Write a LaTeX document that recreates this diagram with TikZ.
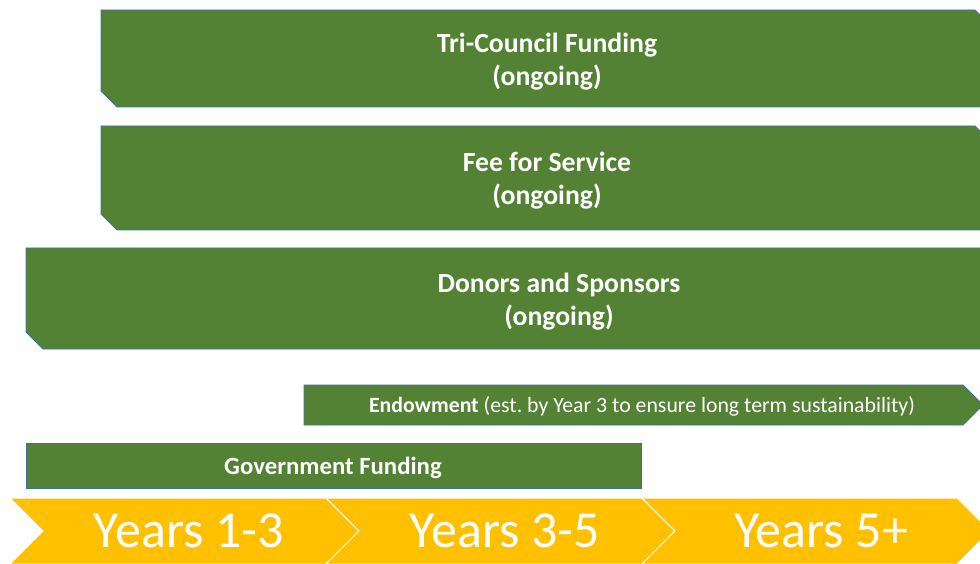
\documentclass[tikz,border=0pt]{standalone}
\usepackage{fontspec}
\setmainfont{Carlito}
\definecolor{barg}{HTML}{548235}
\definecolor{edge}{HTML}{41719C}
\definecolor{gold}{HTML}{FFC000}
\begin{document}
\begin{tikzpicture}[x=1pt,y=-1pt,
 bar/.style={fill=barg,draw=edge,line width=0.8pt},
 chev/.style={fill=gold,draw=white,line width=1pt},
 lbl/.style={text=white,font=\bfseries\fontsize{27.7}{33}\selectfont,align=center,inner sep=0pt},
 small/.style={text=white,font=\fontsize{21.8}{24}\selectfont,inner sep=0pt},
 yr/.style={text=white,font=\fontsize{52}{56}\selectfont,inner sep=0pt}]
\useasboundingbox (0,0) rectangle (980,564);
\clip (0,0) rectangle (980,564);
% funding bars
\draw[bar] (101,10) -- (975,10) -- (991,26) -- (991,107) -- (117,107) -- (101,91) -- cycle;
\draw[bar] (101,126) -- (975,126) -- (991,142) -- (991,230) -- (117,230) -- (101,214) -- cycle;
\draw[bar] (26,248) -- (1076,248) -- (1092,264) -- (1092,349) -- (43,349) -- (26,332) -- cycle;
\draw[bar] (304,385) -- (963,385) -- (983,405) -- (963,425) -- (304,425) -- cycle;
\draw[bar] (26,443) rectangle (641,488);
% timeline chevrons
\draw[chev] (10,498) -- (326,498) -- (359,531) -- (326,564) -- (10,564) -- (43,531) -- cycle;
\draw[chev] (326,498) -- (642,498) -- (675,531) -- (642,564) -- (326,564) -- (359,531) -- cycle;
\draw[chev] (642,498) -- (957,498) -- (990,531) -- (957,564) -- (642,564) -- (675,531) -- cycle;
% labels
\node[lbl] (tri) at (547,62) {Tri-Council Funding\\(ongoing)};
\node[lbl] (fee) at (547,180.5) {Fee for Service\\(ongoing)};
\node[lbl] (don) at (559,302) {Donors and Sponsors\\(ongoing)};
\node[small] (end) at (642,406) {\textbf{Endowment} (est.\ by Year 3 to ensure long term sustainability)};
\node[small,font=\bfseries\fontsize{24.8}{26}\selectfont] (gov) at (333,467.5) {Government Funding};
\node[yr] (y1) at (189,531) {Years 1-3};
\node[yr] (y2) at (505,531) {Years 3-5};
\node[yr] (y3) at (821,531) {Years 5+};
\end{tikzpicture}
\end{document}
